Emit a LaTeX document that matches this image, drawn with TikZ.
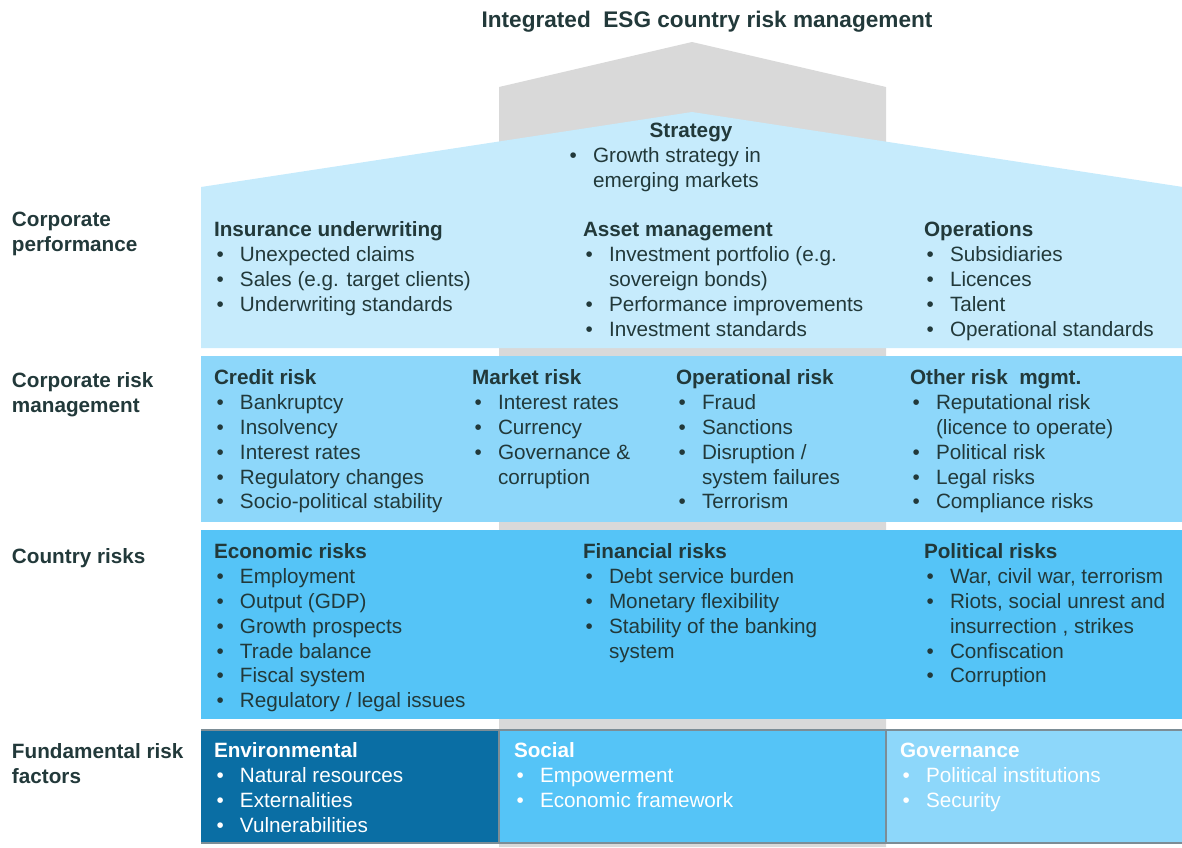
\documentclass[tikz,border=0pt]{standalone}
\usepackage{fontspec}
\setmainfont{Liberation Sans}
\definecolor{ink}{HTML}{22393A}
\definecolor{pillar}{HTML}{D9D9D9}
\definecolor{roofblue}{HTML}{C6EBFC}
\definecolor{midblue}{HTML}{8DD7FA}
\definecolor{skyblue}{HTML}{55C4F7}
\definecolor{deepblue}{HTML}{0A6EA4}
\definecolor{rule}{HTML}{7C8D96}
\newcommand\bodyfont{\fontsize{20.7}{24.9}\selectfont}
\newcommand\tp{\rule{0pt}{17pt}}
\newcommand\hd[1]{\tp\textbf{#1}}
\newcommand\bl[1]{\hspace*{2.5pt}\makebox[23.5pt][l]{\textbullet}#1}
\newcommand\cn[1]{\hspace*{26pt}#1}
\begin{document}
\begin{tikzpicture}[x=1pt,y=-1pt,
  blk/.style={anchor=north west, inner sep=0pt, outer sep=0pt, align=left, font=\bodyfont, text=ink},
  wblk/.style={blk, text=white},
  side/.style={blk, font=\bodyfont\bfseries}]
\useasboundingbox (0,0) rectangle (1182,847);

% central pillar and roof
\fill[pillar] (499,847) -- (499,87) -- (692,42) -- (886,87) -- (886,847) -- cycle;
\fill[roofblue] (201,348) -- (201,187) -- (692,112) -- (1183,187) -- (1183,348) -- cycle;

% horizontal bands
\fill[midblue] (201,356) rectangle (1182,522);
\fill[skyblue] (201,530) rectangle (1182,719);

% ESG foundation
\fill[deepblue] (201,730) rectangle (499,843);
\fill[skyblue]  (499,730) rectangle (886,843);
\fill[midblue]  (886,730) rectangle (1182,843);
\draw[rule, line width=2pt] (201,730) -- (1182,730);
\draw[rule, line width=2pt] (201,843) -- (1182,843);
\draw[rule, line width=1.5pt] (499,730) -- (499,843);
\draw[rule, line width=1.5pt] (886,730) -- (886,843);

% title
\node[anchor=base, inner sep=0pt, text=ink, font=\fontsize{22.6}{27}\selectfont\bfseries] (title) at (707,27.5) {Integrated\ \ ESG country risk management};

% strategy
\node[anchor=base, inner sep=0pt, text=ink, font=\bodyfont\bfseries] (strat) at (691,137.4) {Strategy};
\node[blk] (stratlist) at (567,145.4) {\tp\bl{Growth strategy in}\\\cn{emerging markets}};

% row labels
\node[side] (lab1) at (12,209.4) {\tp Corporate\\performance};
\node[side] (lab2) at (12,370.4) {\tp Corporate risk\\management};
\node[side] (lab3) at (12,546.4) {\tp Country risks};
\node[side] (lab4) at (12,741.4) {\tp Fundamental risk\\factors};

% corporate performance
\node[blk] (ins) at (214,219.4) {\hd{Insurance underwriting}\\\bl{Unexpected claims}\\\bl{Sales (e.g. target clients)}\\\bl{Underwriting standards}};
\node[blk] (asset) at (583,219.4) {\hd{Asset management}\\\bl{Investment portfolio (e.g.}\\\cn{sovereign bonds)}\\\bl{Performance improvements}\\\bl{Investment standards}};
\node[blk] (ops) at (924,219.4) {\hd{Operations}\\\bl{Subsidiaries}\\\bl{Licences}\\\bl{Talent}\\\bl{Operational standards}};

% corporate risk management
\node[blk] (credit) at (214,367.4) {\hd{Credit risk}\\\bl{Bankruptcy}\\\bl{Insolvency}\\\bl{Interest rates}\\\bl{Regulatory changes}\\\bl{Socio-political stability}};
\node[blk] (market) at (472,367.4) {\hd{Market risk}\\\bl{Interest rates}\\\bl{Currency}\\\bl{Governance \&}\\\cn{corruption}};
\node[blk] (oprisk) at (676,367.4) {\hd{Operational risk}\\\bl{Fraud}\\\bl{Sanctions}\\\bl{Disruption /}\\\cn{system failures}\\\bl{Terrorism}};
\node[blk] (other) at (910,367.4) {\hd{Other risk\ \ mgmt.}\\\bl{Reputational risk}\\\cn{(licence to operate)}\\\bl{Political risk}\\\bl{Legal risks}\\\bl{Compliance risks}};

% country risks
\node[blk] (econ) at (214,541.4) {\hd{Economic risks}\\\bl{Employment}\\\bl{Output (GDP)}\\\bl{Growth prospects}\\\bl{Trade balance}\\\bl{Fiscal system}\\\bl{Regulatory / legal\ issues}};
\node[blk] (fin) at (583,541.4) {\hd{Financial risks}\\\bl{Debt service burden}\\\bl{Monetary flexibility}\\\bl{Stability of the banking}\\\cn{system}};
\node[blk] (pol) at (924,541.4) {\hd{Political risks}\\\bl{War, civil war, terrorism}\\\bl{Riots, social unrest and}\\\cn{insurrection , strikes}\\\bl{Confiscation}\\\bl{Corruption}};

% fundamental risk factors
\node[wblk] (env) at (214,740.4) {\hd{Environmental}\\\bl{Natural resources}\\\bl{Externalities}\\\bl{Vulnerabilities}};
\node[wblk] (soc) at (514,740.4) {\hd{Social}\\\bl{Empowerment}\\\bl{Economic framework}};
\node[wblk] (gov) at (900,740.4) {\hd{Governance}\\\bl{Political institutions}\\\bl{Security}};
\end{tikzpicture}
\end{document}
